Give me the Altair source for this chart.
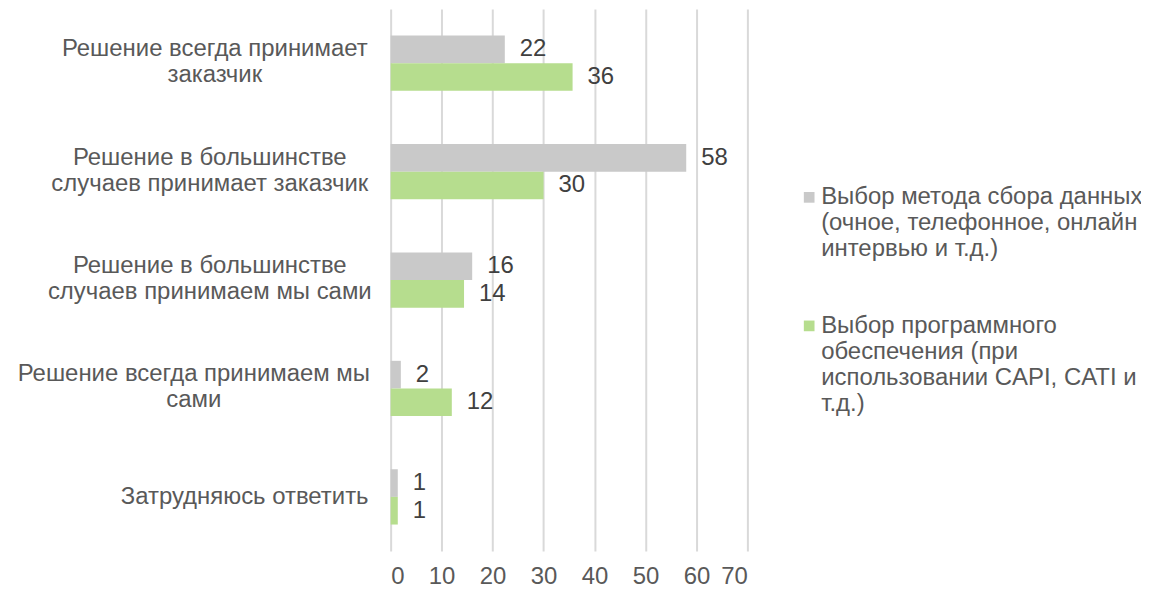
import altair as alt
import pandas as pd

categories = [
    "Решение всегда принимает|заказчик",
    "Решение в большинстве|случаев принимает заказчик",
    "Решение в большинстве|случаев принимаем мы сами",
    "Решение всегда принимаем мы|сами",
    "Затрудняюсь ответить",
]
series = [
    "Выбор метода сбора данных|(очное, телефонное, онлайн|интервью и т.д.)",
    "Выбор программного|обеспечения (при|использовании CAPI, CATI и|т.д.)",
]
method_values = [22.4, 58, 16, 2, 1.4]
software_values = [35.7, 30, 14.4, 12, 1.4]
colors = ["#c9c9c9", "#b6dd8e"]

# style: distance from the axis to the centre of each centred label block
label_center_pad = [177, 182, 182, 198, 147]

rows = []
for c, a, b in zip(categories, method_values, software_values):
    rows.append({"category": c, "series": series[0], "value": a})
    rows.append({"category": c, "series": series[1], "value": b})
df = pd.DataFrame(rows)

FONT = "Liberation Sans"
FS = 24

pad_conditions = [
    {"test": f"datum.value === {c!r}", "value": p}
    for c, p in zip(categories[:-1], label_center_pad[:-1])
]

y_enc = alt.Y(
    "category:N",
    sort=categories,
    title=None,
    scale=alt.Scale(paddingInner=0.49, paddingOuter=0.245),
    axis=alt.Axis(
        labelExpr="split(datum.label, '|')",
        labelAlign="center",
        labelBaseline="middle",
        labelPadding={"condition": pad_conditions, "value": label_center_pad[-1]},
        labelOffset={
            "condition": {"test": "indexof(datum.value, '|') >= 0", "value": -14},
            "value": 0,
        },
        labelLimit=400,
        labelFontSize=FS,
        labelLineHeight=26,
        labelColor="#595959",
        labelFont=FONT,
        ticks=False,
        domain=False,
        grid=False,
    ),
)
yoff = alt.YOffset("series:N", sort=series)

bars = alt.Chart(df).mark_bar().encode(
    x=alt.X(
        "value:Q",
        title=None,
        scale=alt.Scale(domain=[0, 70], nice=False),
        axis=alt.Axis(
            values=[0, 10, 20, 30, 40, 50, 60, 70],
            format="d",
            grid=True,
            gridColor="#d9d9d9",
            gridWidth=2,
            domain=False,
            ticks=False,
            labelPadding=14,
            labelFontSize=FS,
            labelColor="#595959",
            labelFont=FONT,
        ),
    ),
    y=y_enc,
    yOffset=yoff,
    color=alt.Color(
        "series:N",
        sort=series,
        scale=alt.Scale(domain=series, range=colors),
        legend=alt.Legend(
            title=None,
            orient="none",
            legendX=408,
            legendY=177,
            padding=0,
            symbolType="square",
            symbolSize=115,
            symbolStrokeWidth=0,
            labelExpr="split(datum.label, '|')",
            labelFontSize=FS,
            labelColor="#595959",
            labelFont=FONT,
            labelLimit=400,
            labelBaseline="middle",
            labelOffset=0,
            rowPadding=53,
        ),
    ),
)

labels = alt.Chart(df).mark_text(
    align="left", baseline="middle", dx=15, fontSize=FS,
    color="#404040", font=FONT,
).encode(
    x="value:Q",
    y=alt.Y("category:N", sort=categories),
    yOffset=yoff,
    text=alt.Text("value:Q", format="d"),
)

chart = (
    alt.layer(bars, labels)
    .properties(
        width=358,
        height=544,
        autosize=alt.AutoSizeParams(type="none"),
        padding={"left": 384, "top": 0, "right": 395, "bottom": 32},
    )
    .configure(
        background="white",
        style={"guide-label": {"lineHeight": 26}},
        view=alt.ViewConfig(strokeWidth=0),
    )
)

chart.save("out.html", embed_options={"renderer": "svg", "actions": False})
